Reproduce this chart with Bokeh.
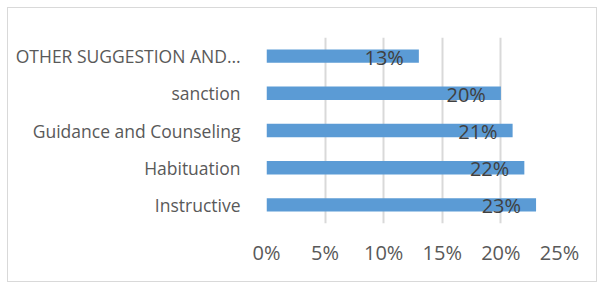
from bokeh.plotting import figure
from bokeh.models import ColumnDataSource, FixedTicker, NumeralTickFormatter, Range1d
from bokeh.core.properties import value
from bokeh.embed import file_html
from bokeh.resources import INLINE

categories = ["Instructive", "Habituation", "Guidance and Counseling", "sanction", "OTHER SUGGESTION AND\u2026"]
values = [0.23, 0.22, 0.21, 0.20, 0.13]
labels = ["23%", "22%", "21%", "20%", "13%"]
x_ticks = [0, 0.05, 0.10, 0.15, 0.20, 0.25]

src = ColumnDataSource(dict(cat=categories, val=values, lab=labels))

p = figure(width=590, height=275, y_range=categories, x_range=Range1d(0, 0.25),
           output_backend="svg", toolbar_location=None,
           min_border_left=258, min_border_right=39, min_border_top=29, min_border_bottom=60)
p.styles = {"border": "1px solid #D9D9D9", "margin-left": "7px", "margin-top": "7px"}
p.outline_line_color = None

p.hbar(y="cat", right="val", left=0, height=0.36, source=src, color="#5B9BD5", line_color=None)
p.text(x="val", y="cat", text="lab", source=src, text_align="right", text_baseline="middle",
       x_offset=-15, y_offset=1, text_font=value("Open Sans"), text_font_size="20px", text_color="#404040")

p.xaxis.ticker = FixedTicker(ticks=x_ticks)
p.xaxis.formatter = NumeralTickFormatter(format="0%")
p.xaxis.axis_line_color = None
p.xaxis.major_tick_line_color = None
p.xaxis.minor_tick_line_color = None
p.xaxis.major_label_text_font = "Open Sans"
p.xaxis.major_label_text_font_size = "20px"
p.xaxis.major_label_text_color = "#595959"
p.xaxis.major_label_standoff = 9

p.yaxis.axis_line_color = None
p.yaxis.major_tick_line_color = None
p.yaxis.minor_tick_line_color = None
p.yaxis.major_label_text_font = "Open Sans"
p.yaxis.major_label_text_font_size = "17.5px"
p.yaxis.major_label_text_color = "#595959"
p.yaxis.major_label_standoff = 20

p.ygrid.grid_line_color = None
p.xgrid.grid_line_color = "#D9D9D9"
p.xgrid.grid_line_width = 2

open("out.html", "w").write(file_html(p, INLINE))
